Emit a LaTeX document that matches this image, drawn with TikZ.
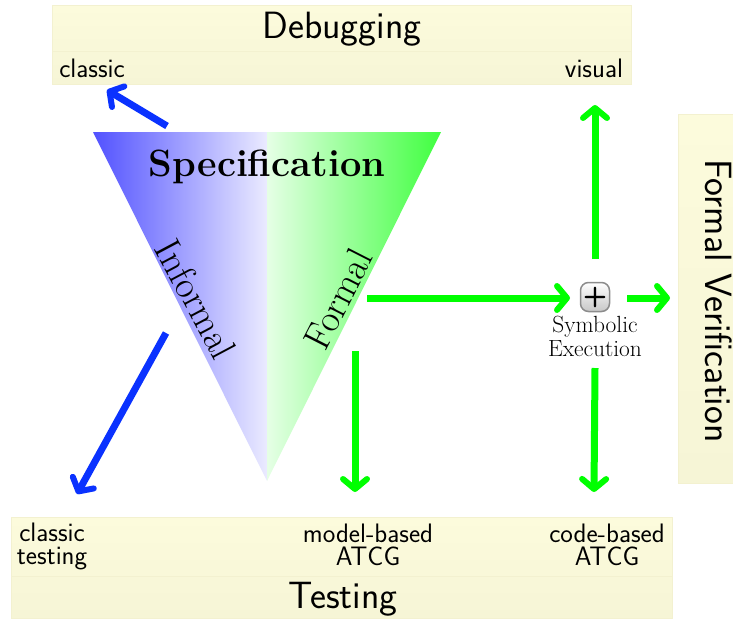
\documentclass[tikz,border=0pt]{standalone}
\usetikzlibrary{arrows.meta,shapes.misc}
\definecolor{boxtop}{RGB}{252,251,220}
\definecolor{boxbot}{RGB}{246,245,214}
\definecolor{boxline}{RGB}{243,241,208}
\definecolor{infblue}{RGB}{10,50,255}
\tikzset{%
  panel/.style={draw=boxline, line width=1pt, bottom color=boxbot, top color=boxtop},
  flow/.style={line width=7pt, -{Straight Barb[round,length=10pt,width=24pt,line width=6pt]}},
  big/.style={font=\sffamily\fontsize{38}{38}\selectfont},
  small/.style={font=\sffamily\fontsize{26.7}{23}\selectfont, align=center},
  sym/.style={font=\fontsize{23.4}{24}\selectfont, align=center},
  slanted/.style={font=\fontsize{38}{38}\selectfont},
}
\begin{document}
\begin{tikzpicture}[x=1pt,y=-1pt]
  \useasboundingbox (0,0) rectangle (733,618);
  % panels
  \path[panel] (52,6) rectangle (631,84);
  \draw[boxline, line width=1pt] (52,52) -- (631,52);
  \path[panel] (11,517) rectangle (672,618);
  \draw[boxline, line width=1pt] (11,576) -- (672,576);
  \path[panel] (678,114) rectangle (733,483);
  % specification triangle
  \shade[left color=blue!68!white, right color=blue!8!white] (93,132) -- (267,132) -- (267,481) -- cycle;
  \shade[left color=green!10!white, right color=green!75!white] (267,132) -- (441,132) -- (267,481) -- cycle;
  \node[font=\bfseries\fontsize{38}{38}\selectfont] (spec) at (267,167) {Specification};
  \node[slanted, rotate=-62] (informal) at (196,299) {Informal};
  \node[slanted, rotate=63] (formal) at (338,299) {Formal};
  % panel labels
  \node[big] (debug) at (342,29) {Debugging};
  \node[small] (dclassic) at (92,68) {classic};
  \node[small] (dvisual) at (594,68) {visual};
  \node[big] (test) at (343,599) {Testing};
  \node[small] (tclassic) at (52,546) {classic\\testing};
  \node[small] (tmodel) at (368,545) {model-based\\ATCG};
  \node[small] (tcode) at (607,545) {code-based\\ATCG};
  \node[big, rotate=-90] (verif) at (719,301) {Formal Verification};
  % symbolic execution
  \node[draw=black!45, line width=1.5pt, rounded corners=8pt, minimum size=29pt, inner sep=0pt,
        top color=white, bottom color=black!22, font=\sffamily\bfseries\fontsize{28}{28}\selectfont] (plus) at (595,297) {+};
  \node[sym] (symex) at (595,336) {Symbolic\\Execution};
  % free ends of the arrows
  \foreach \n/\x/\y in {a/167/126, b/107/90, c/166/333, d/77/494, e/367/298, f/570/298,
                        g/355/351, h/355/492, i/595/259, j/595/105, k/627/298, l/670/298,
                        m/595/368, o/594/492}{
      \coordinate (\n) at (\x,\y);
  }
  % informal arrows
  \foreach \s/\t in {a/b, c/d}{
      \draw[flow, infblue] (\s) -- (\t);
  }
  % formal arrows
  \foreach \s/\t in {e/f, g/h, i/j, k/l, m/o}{
      \draw[flow, green] (\s) -- (\t);
  }
\end{tikzpicture}
\end{document}
